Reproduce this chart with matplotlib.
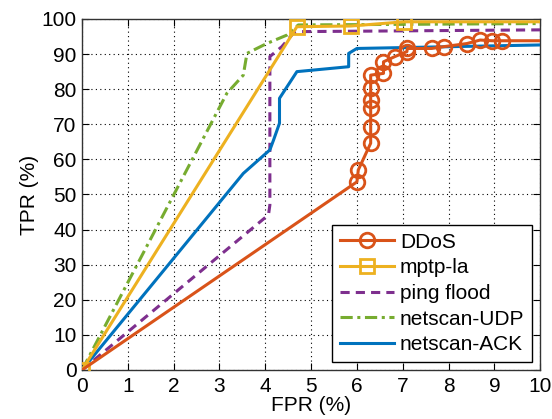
import numpy as np
import matplotlib
matplotlib.use('Agg')
import matplotlib.pyplot as plt

plt.rcParams['font.family'] = ['Liberation Sans', 'DejaVu Sans']

# data (FPR %, TPR %)
ddos_x = [0, 6.0, 6.03, 6.3, 6.3, 6.3, 6.3, 6.3, 6.3, 6.58, 6.58, 6.83, 7.09, 7.1, 7.63, 7.89, 8.4, 8.69, 8.95, 9.16, 10]
ddos_y = [0, 53.6, 57, 64.6, 69.3, 74.5, 76.9, 80.2, 84, 84.5, 87.8, 89.3, 90.7, 91.6, 91.6, 92.1, 93, 94, 93.8, 93.8, 93.8]

mptp_x = [0, 4.69, 5.87, 7.03, 10]
mptp_y = [0, 97.8, 98, 99.2, 99.2]

ping_x = [0, 4.07, 4.1, 4.1, 4.36, 4.61, 4.76, 10]
ping_y = [0, 44.2, 47, 89.3, 92.1, 95.9, 96.4, 96.9]

udp_x = [0, 3.16, 3.52, 3.6, 4.03, 4.47, 4.72, 10]
udp_y = [0, 78.8, 84, 90.2, 93, 95.4, 98.3, 98.7]

ack_x = [0, 3.52, 4.1, 4.18, 4.31, 4.31, 4.69, 5.82, 5.82, 6.0, 10]
ack_y = [0, 56, 62.7, 65.5, 70.3, 77.4, 85, 86.4, 90.2, 91.6, 92.6]

xticks = list(range(0, 11))
yticks = list(range(0, 101, 10))

c_blue = '#0072BD'
c_red = '#D95319'
c_yel = '#EDB120'
c_pur = '#7E2F8E'
c_grn = '#77AC30'

fig = plt.figure(figsize=(5.52, 4.19), dpi=100)
ax = fig.add_axes([0.1486, 0.117, 0.830, 0.8377])

ax.plot(ddos_x, ddos_y, color=c_red, lw=2.2, marker='o', markersize=10.5,
        markerfacecolor='none', markeredgewidth=2,
        markevery=list(range(1, len(ddos_x) - 1)), label='DDoS', zorder=5)
ax.plot(mptp_x, mptp_y, color=c_yel, lw=2.2, marker='s', markersize=10,
        markerfacecolor='none', markeredgewidth=2,
        markevery=list(range(0, len(mptp_x) - 1)), label='mptp-la', zorder=4)
ax.plot(ping_x, ping_y, color=c_pur, lw=2.2, ls=(0, (3, 2)), label='ping flood', zorder=3)
ax.plot(udp_x, udp_y, color=c_grn, lw=2.2, ls=(0, (4, 1.5, 1, 1.5)), label='netscan-UDP', zorder=2)
ax.plot(ack_x, ack_y, color=c_blue, lw=2.2, label='netscan-ACK', zorder=3)

ax.set_xlim(0, 10)
ax.set_ylim(0, 100)
ax.set_xticks(xticks)
ax.set_yticks(yticks)
ax.grid(True, color='black', ls=(0, (1, 3)), lw=0.8)
ax.tick_params(direction='in', top=True, right=True, length=5, labelsize=15)
ax.tick_params(axis='x', pad=5)
ax.tick_params(axis='y', pad=4)
for s in ax.spines.values():
    s.set_color('#333333')
    s.set_linewidth(1)

ax.set_xlabel('FPR (%)', fontsize=15, labelpad=0)
ax.set_ylabel('TPR (%)', fontsize=15, labelpad=2)

leg = ax.legend(loc='lower right', fontsize=15, handlelength=2.6, labelspacing=0.32,
                borderaxespad=0.4, fancybox=False, framealpha=1, edgecolor='black',
                handletextpad=0.3, borderpad=0.35)
leg.get_frame().set_linewidth(1)

fig.savefig('out.png', dpi=100)
